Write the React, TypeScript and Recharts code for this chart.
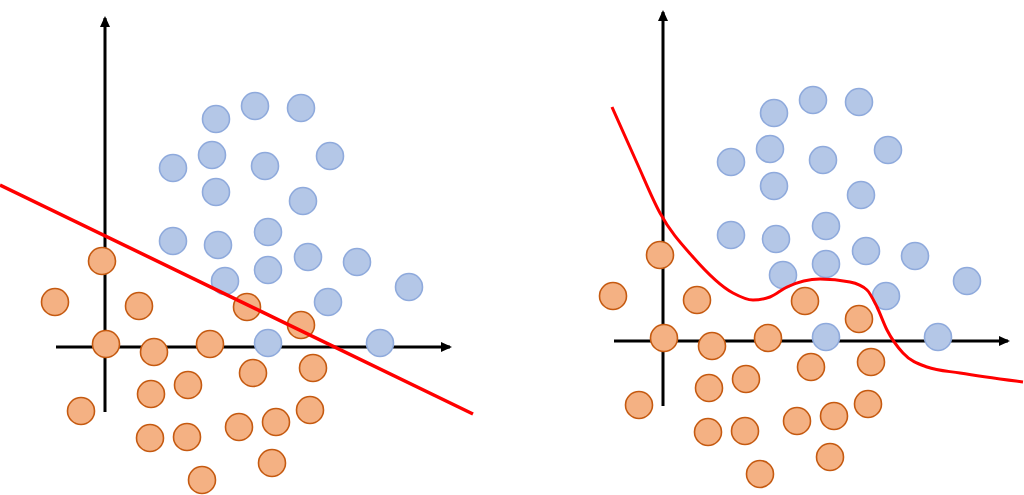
import { ScatterChart, Scatter, XAxis, YAxis } from 'recharts';

// blue class (x, y in axis units, origin at the crossing of the arrows)
const bluePoints = [
    { x: 11.1, y: 22.8 }, { x: 15.0, y: 24.1 }, { x: 19.6, y: 23.9 },
    { x: 6.8, y: 17.9 }, { x: 10.7, y: 19.2 }, { x: 16.0, y: 18.1 }, { x: 22.5, y: 19.1 },
    { x: 11.1, y: 15.5 }, { x: 19.8, y: 14.6 },
    { x: 6.8, y: 10.6 }, { x: 11.3, y: 10.2 }, { x: 16.3, y: 11.5 }, { x: 20.3, y: 9.0 },
    { x: 25.2, y: 8.5 }, { x: 12.0, y: 6.6 }, { x: 16.3, y: 7.7 }, { x: 30.4, y: 6.0 },
    { x: 22.3, y: 4.5 }, { x: 16.3, y: 0.4 }, { x: 27.5, y: 0.4 },
];

// orange class
const orangePoints = [
    { x: -0.3, y: 8.6 }, { x: -5.0, y: 4.5 }, { x: 3.4, y: 4.1 }, { x: 14.2, y: 4.0 },
    { x: 19.6, y: 2.2 }, { x: 0.1, y: 0.3 }, { x: 4.9, y: -0.5 }, { x: 10.5, y: 0.3 },
    { x: 14.8, y: -2.6 }, { x: 20.8, y: -2.1 }, { x: 4.6, y: -4.7 }, { x: 8.3, y: -3.8 },
    { x: -2.4, y: -6.4 }, { x: 4.5, y: -9.1 }, { x: 8.2, y: -9.0 }, { x: 13.4, y: -8.0 },
    { x: 17.1, y: -7.5 }, { x: 20.5, y: -6.3 }, { x: 16.7, y: -11.6 }, { x: 9.7, y: -13.3 },
];

const xAxisLine = [{ x: -4.9, y: 0 }, { x: 34.5, y: 0 }];
const yAxisLine = [{ x: 0, y: -6.5 }, { x: 0, y: 32.9 }];

// linear boundary (left)
const linearBoundary = [{ x: -10.5, y: 16.2 }, { x: 36.8, y: -6.7 }];

// non-linear boundary (right)
const curveBoundary = [
    { x: -5.1, y: 23.4 }, { x: -2.6, y: 17.8 }, { x: -0.3, y: 12.8 }, { x: 3.0, y: 8.4 },
    { x: 7.0, y: 4.8 }, { x: 9.0, y: 4.1 }, { x: 10.7, y: 4.4 }, { x: 12.4, y: 5.4 },
    { x: 15.7, y: 6.2 }, { x: 18.7, y: 5.9 }, { x: 20.4, y: 5.1 }, { x: 21.4, y: 3.4 },
    { x: 22.4, y: 1.1 }, { x: 24.0, y: -1.2 }, { x: 26.4, y: -2.6 }, { x: 29.7, y: -3.2 },
    { x: 36.0, y: -4.1 },
];

const Dot = (fill: string, stroke: string) => (props: any) => (
    <circle cx={props.cx} cy={props.cy} r={13.5} fill={fill} stroke={stroke} strokeWidth={1.6} />
);

const Nothing = () => <g />;

const ArrowRight = (props: any) => (
    <polygon points={`${props.cx + 2},${props.cy} ${props.cx - 9},${props.cy - 5} ${props.cx - 9},${props.cy + 5}`} fill="#000" />
);
const ArrowUp = (props: any) => (
    <polygon points={`${props.cx},${props.cy - 2} ${props.cx - 5},${props.cy + 9} ${props.cx + 5},${props.cy + 9}`} fill="#000" />
);

const Panel = ({ width, xDomain, yDomain, boundary, smooth, lineWidth }: any) => (
    <ScatterChart width={width} height={495} margin={{ top: 0, right: 0, left: 0, bottom: 0 }}>
        <XAxis type="number" dataKey="x" hide domain={xDomain} allowDataOverflow />
        <YAxis type="number" dataKey="y" hide domain={yDomain} allowDataOverflow />
        <Scatter data={xAxisLine} fill="#000" line={{ stroke: '#000', strokeWidth: 3 }} shape={Nothing} isAnimationActive={false} />
        <Scatter data={yAxisLine} fill="#000" line={{ stroke: '#000', strokeWidth: 3 }} shape={Nothing} isAnimationActive={false} />
        <Scatter data={xAxisLine.slice(1)} shape={ArrowRight} isAnimationActive={false} />
        <Scatter data={yAxisLine.slice(1)} shape={ArrowUp} isAnimationActive={false} />
        <Scatter data={bluePoints} shape={Dot('#B4C7E7', '#8FAADC')} isAnimationActive={false} />
        <Scatter data={orangePoints} shape={Dot('#F4B183', '#C55A11')} isAnimationActive={false} />
        <Scatter
            data={boundary}
            fill="#FF0000"
            line={{ stroke: '#FF0000', strokeWidth: lineWidth }}
            lineType="joint"
            lineJointType={smooth ? 'monotoneX' : 'linear'}
            shape={Nothing}
            isAnimationActive={false}
        />
    </ScatterChart>
);

const App = () => {
    return (
        <div style={{ position: 'relative', width: 1024, height: 495, background: '#fff' }}>
            <style>{'body{margin:0}'}</style>
            <div style={{ position: 'absolute', left: 0, top: 0 }}>
                <Panel width={480} xDomain={[-10.5, 37.5]} yDomain={[-14.8, 34.7]} boundary={linearBoundary} smooth={false} lineWidth={3.5} />
            </div>
            <div style={{ position: 'absolute', left: 558, top: 0 }}>
                <Panel width={466} xDomain={[-10.5, 36.1]} yDomain={[-15.4, 34.1]} boundary={curveBoundary} smooth lineWidth={3} />
            </div>
        </div>
    );
};

export default App;
